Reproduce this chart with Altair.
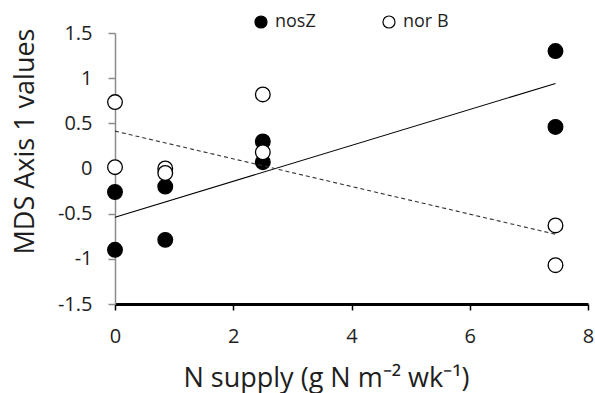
import altair as alt
import pandas as pd

# Data
x_vals = [0, 0, 0.85, 0.85, 2.5, 2.5, 7.45, 7.45]
nosz_vals = [-0.26, -0.90, -0.20, -0.79, 0.30, 0.07, 1.30, 0.46]
norb_vals = [0.735, 0.015, 0.0, -0.05, 0.82, 0.18, -0.63, -1.07]
series_names = ["nosZ", "nor B"]
x_ticks = [0, 2, 4, 6, 8]
y_ticks = [-1.5, -1, -0.5, 0, 0.5, 1, 1.5]

rows = []
for x, v in zip(x_vals, nosz_vals):
    rows.append({"x": x, "y": v, "series": series_names[0]})
for x, v in zip(x_vals, norb_vals):
    rows.append({"x": x, "y": v, "series": series_names[1]})
df = pd.DataFrame(rows)

FONT = "Open Sans"
TXT = "#1e1e1e"

xenc = alt.X(
    "x:Q",
    scale=alt.Scale(domain=[0, 8], nice=False, zero=False),
    axis=alt.Axis(
        values=x_ticks,
        labelExpr="toString(datum.value)",
        title="N supply (g N m\u207b\u00b2 wk\u207b\u00b9)",
        grid=False,
        domainColor="black",
        domainWidth=3,
        tickColor="black",
        tickWidth=1.5,
        tickSize=6,
        labelFontSize=20,
        labelPadding=16,
        labelFont=FONT,
        labelColor=TXT,
        titleFont=FONT,
        titleFontSize=27,
        titleFontWeight="normal",
        titleColor=TXT,
        titleX=211,
        titleY=82,
        titleBaseline="alphabetic",
        titleAlign="center",
        labelFlush=False,
        labelOverlap=False,
    ),
)
yenc = alt.Y(
    "y:Q",
    scale=alt.Scale(domain=[-1.5, 1.5], nice=False, zero=False),
    axis=alt.Axis(
        values=y_ticks,
        labelExpr="toString(datum.value)",
        title="MDS Axis 1 values",
        grid=False,
        domainColor="#8c8c8c",
        domainWidth=1.5,
        tickColor="#8c8c8c",
        tickWidth=1.5,
        tickSize=7,
        labelFontSize=20,
        labelPadding=16,
        labelFont=FONT,
        labelColor=TXT,
        titleFont=FONT,
        titleFontSize=27,
        titleFontWeight="normal",
        titleColor=TXT,
        titleX=-82,
        titleY=108,
        titleAngle=-90,
        titleBaseline="alphabetic",
        titleAlign="center",
        labelFlush=False,
        labelOverlap=False,
    ),
)

base = alt.Chart(df)

line_nosz = base.transform_filter(
    alt.datum.series == series_names[0]
).transform_regression("x", "y").mark_line(
    color="black", strokeWidth=1.1
).encode(x="x:Q", y="y:Q")

line_norb = base.transform_filter(
    alt.datum.series == series_names[1]
).transform_regression("x", "y").mark_line(
    color="#333333", strokeWidth=1.1, strokeDash=[4, 3]
).encode(x="x:Q", y="y:Q")

points = base.mark_circle(
    size=215, stroke="black", strokeWidth=1.3, opacity=1
).encode(
    x=xenc,
    y=yenc,
    fill=alt.Fill(
        "series:N",
        scale=alt.Scale(domain=series_names, range=["black", "white"]),
        legend=alt.Legend(
            title=None,
            orient="none",
            direction="horizontal",
            legendX=137,
            legendY=-20,
            padding=0,
            symbolType="circle",
            symbolSize=145,
            symbolStrokeColor="black",
            symbolStrokeWidth=1.2,
            symbolOpacity=1,
            labelFont=FONT,
            labelFontSize=18,
            labelColor=TXT,
            labelOffset=5,
            columnPadding=64,
        ),
    ),
)

chart = alt.layer(points, line_nosz, line_norb).properties(
    width=473,
    height=271,
    autosize=alt.AutoSizeParams(type="none"),
    padding={"left": 115, "top": 33, "right": 7, "bottom": 89},
    background="white",
).configure_view(stroke=None)

chart.save("out.html", embed_options={"renderer": "svg", "actions": False})
